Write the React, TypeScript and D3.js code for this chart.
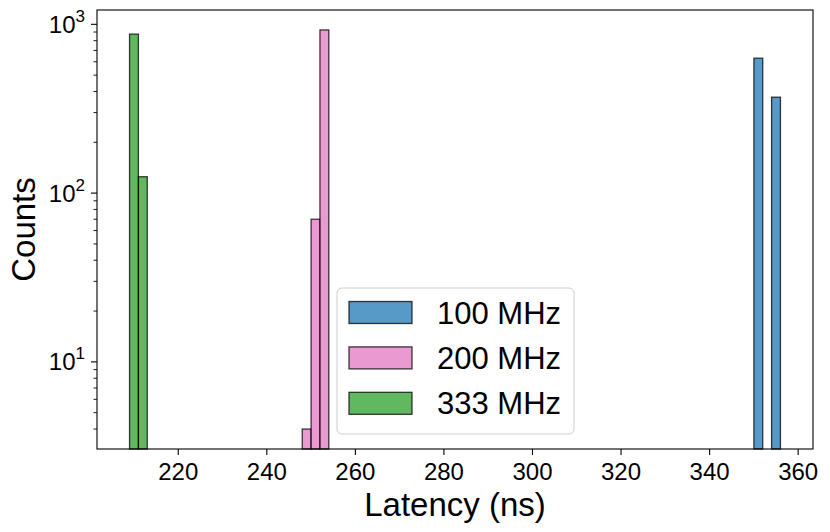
import React, { useRef, useEffect } from 'react';
import * as d3 from 'd3';

// histogram bins (left edge, ns) and counts, bin width 2 ns
const binWidth = 2;
const bins100 = [350, 352, 354];
const counts100 = [630, 0, 370];
const bins200 = [248, 250, 252];
const counts200 = [4, 70, 926];
const bins333 = [209, 211];
const counts333 = [875, 125];

const seriesNames = ['100 MHz', '200 MHz', '333 MHz'];
const seriesColors = ['#1f77b4', '#e377c2', '#2ca02c'];

const xTicks = [220, 240, 260, 280, 300, 320, 340, 360];
const yTickExps = [1, 2, 3];

const width = 830;
const height = 532;
const FONT = '"Liberation Sans", Arial, Helvetica, sans-serif';

const App: React.FC = () => {
  const svgRef = useRef<SVGSVGElement>(null);

  useEffect(() => {
    if (!svgRef.current) return;
    const svg = d3.select(svgRef.current);
    svg.selectAll('*').remove();

    const margin = { top: 10, right: 17, bottom: 83, left: 97 };
    const innerWidth = width - margin.left - margin.right;
    const innerHeight = height - margin.top - margin.bottom;

    const series = [
      { bins: bins100, counts: counts100 },
      { bins: bins200, counts: counts200 },
      { bins: bins333, counts: counts333 },
    ];

    // matplotlib-like 5% margins
    const allEdges = series.flatMap(s => s.bins.flatMap(b => [b, b + binWidth]));
    const [xMin, xMax] = d3.extent(allEdges) as [number, number];
    const xPad = (xMax - xMin) * 0.05;
    const xScale = d3.scaleLinear()
      .domain([xMin - xPad, xMax + xPad])
      .range([0, innerWidth]);

    const allCounts = series.flatMap(s => s.counts).filter(c => c > 0);
    const lMin = Math.log10(d3.min(allCounts)!);
    const lMax = Math.log10(d3.max(allCounts)!);
    const lPad = (lMax - lMin) * 0.05;
    const yScale = d3.scaleLog()
      .domain([Math.pow(10, lMin - lPad), Math.pow(10, lMax + lPad)])
      .range([innerHeight, 0]);

    svg.append('rect')
      .attr('width', width)
      .attr('height', height)
      .attr('fill', '#ffffff');

    const g = svg.append('g')
      .attr('transform', `translate(${margin.left},${margin.top})`);

    // bars
    series.forEach((s, i) => {
      const data = s.bins.map((b, j) => ({ x: b, c: s.counts[j] })).filter(d => d.c > 0);
      g.selectAll(`.bar${i}`)
        .data(data)
        .enter()
        .append('rect')
        .attr('x', d => xScale(d.x))
        .attr('width', d => xScale(d.x + binWidth) - xScale(d.x))
        .attr('y', d => yScale(d.c))
        .attr('height', d => innerHeight - yScale(d.c))
        .attr('fill', seriesColors[i])
        .attr('fill-opacity', 0.75)
        .attr('stroke', '#000')
        .attr('stroke-opacity', 0.75)
        .attr('stroke-width', 1.3);
    });

    // frame
    g.append('rect')
      .attr('width', innerWidth)
      .attr('height', innerHeight)
      .attr('fill', 'none')
      .attr('stroke', '#000')
      .attr('stroke-width', 1.1);

    // x ticks
    xTicks.forEach(t => {
      const x = xScale(t);
      g.append('line')
        .attr('x1', x).attr('x2', x)
        .attr('y1', innerHeight).attr('y2', innerHeight + 6)
        .attr('stroke', '#000').attr('stroke-width', 1.1);
      g.append('text')
        .attr('x', x)
        .attr('y', innerHeight + 31)
        .attr('text-anchor', 'middle')
        .attr('font-family', FONT)
        .attr('font-size', 24)
        .text(String(t));
    });

    // y major ticks
    yTickExps.forEach(e => {
      const y = yScale(Math.pow(10, e));
      g.append('line')
        .attr('x1', -6).attr('x2', 0)
        .attr('y1', y).attr('y2', y)
        .attr('stroke', '#000').attr('stroke-width', 1.1);
      const txt = g.append('text')
        .attr('x', -12)
        .attr('y', y + 8.5)
        .attr('text-anchor', 'end')
        .attr('font-family', FONT)
        .attr('font-size', 24);
      txt.append('tspan').text('10');
      txt.append('tspan').attr('dy', -11).attr('font-size', 17).text(String(e));
    });

    // y minor ticks
    const [d0, d1] = yScale.domain();
    for (let e = Math.floor(Math.log10(d0)); e <= Math.ceil(Math.log10(d1)); e++) {
      for (let m = 2; m <= 9; m++) {
        const v = m * Math.pow(10, e);
        if (v < d0 || v > d1) continue;
        const y = yScale(v);
        g.append('line')
          .attr('x1', -3.5).attr('x2', 0)
          .attr('y1', y).attr('y2', y)
          .attr('stroke', '#000').attr('stroke-width', 0.9);
      }
    }

    // axis labels
    g.append('text')
      .attr('x', innerWidth / 2)
      .attr('y', innerHeight + 67)
      .attr('text-anchor', 'middle')
      .attr('font-family', FONT)
      .attr('font-size', 33)
      .text('Latency (ns)');

    g.append('text')
      .attr('transform', `translate(${35 - margin.left},${innerHeight / 2}) rotate(-90)`)
      .attr('text-anchor', 'middle')
      .attr('font-family', FONT)
      .attr('font-size', 33)
      .text('Counts');

    // legend
    const legend = svg.append('g').attr('transform', 'translate(337,288)');
    legend.append('rect')
      .attr('width', 237)
      .attr('height', 146)
      .attr('rx', 5)
      .attr('fill', '#fff')
      .attr('fill-opacity', 0.8)
      .attr('stroke', '#cccccc')
      .attr('stroke-width', 1);
    seriesNames.forEach((name, i) => {
      const cy = 24.5 + i * 45.4;
      legend.append('rect')
        .attr('x', 12)
        .attr('y', cy - 11)
        .attr('width', 63)
        .attr('height', 22)
        .attr('fill', seriesColors[i])
        .attr('fill-opacity', 0.75)
        .attr('stroke', '#000')
        .attr('stroke-opacity', 0.75)
        .attr('stroke-width', 1.3);
      legend.append('text')
        .attr('x', 100)
        .attr('y', cy + 11)
        .attr('font-family', FONT)
        .attr('font-size', 31)
        .text(name);
    });
  }, []);

  return (
    <svg
      ref={svgRef}
      width={width}
      height={height}
      style={{ position: 'absolute', left: 0, top: 0 }}
    />
  );
};

export default App;
